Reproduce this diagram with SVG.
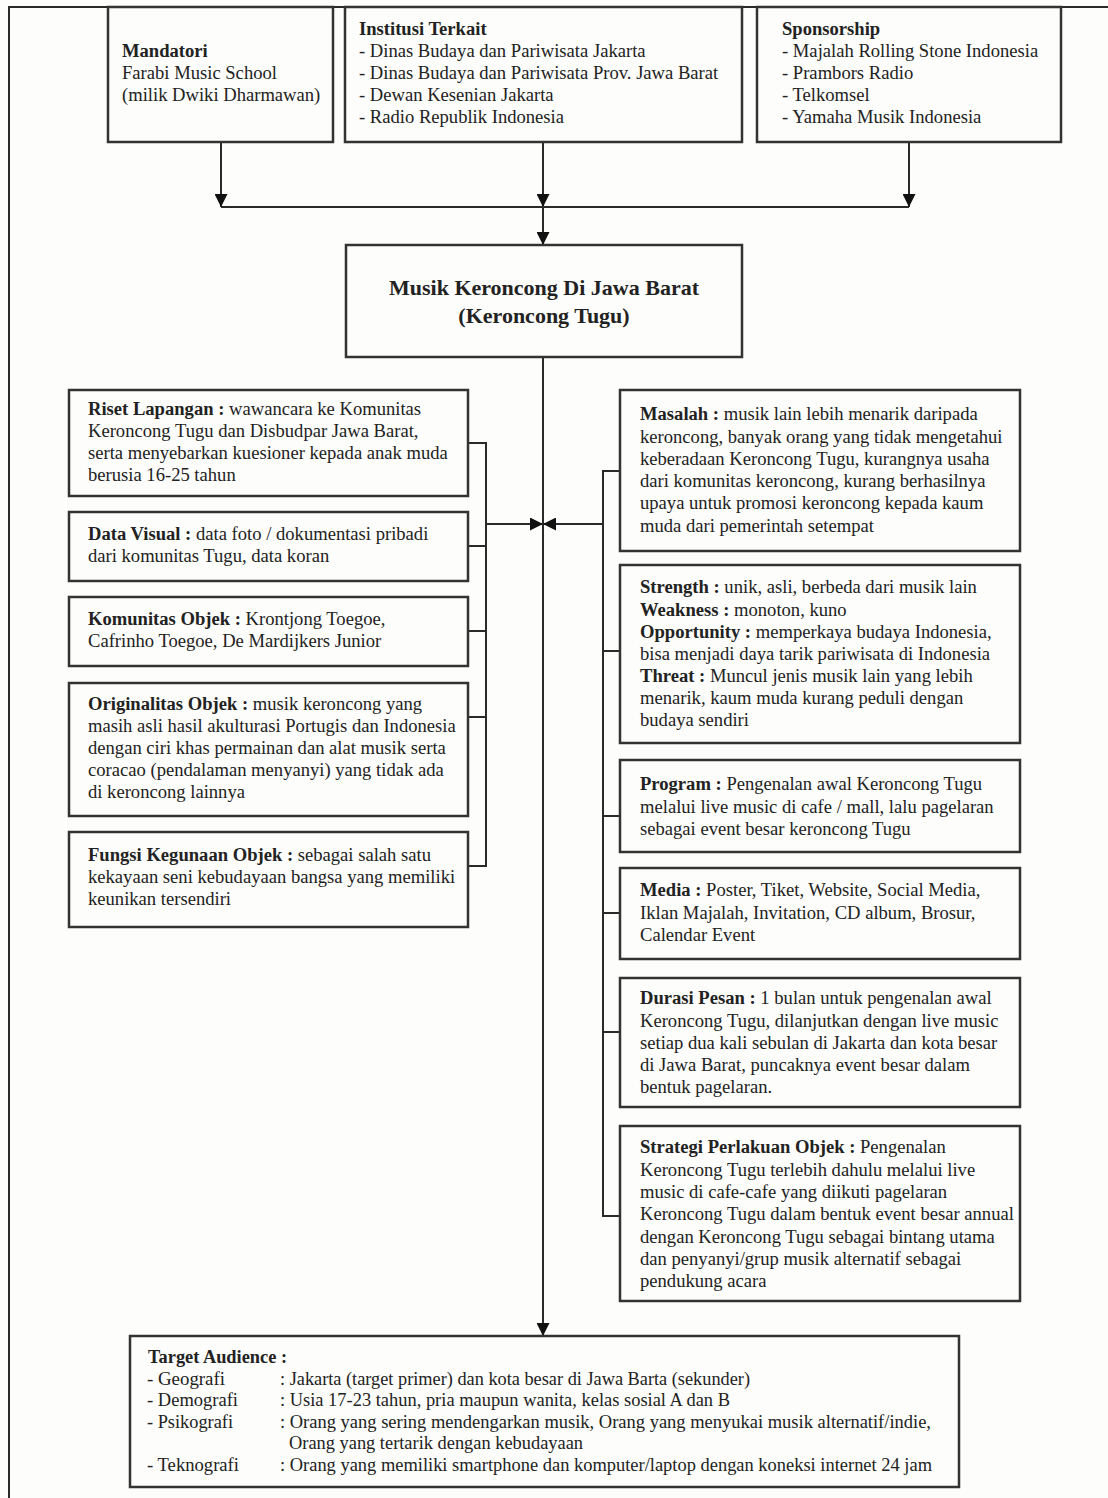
<svg xmlns="http://www.w3.org/2000/svg" width="1108" height="1498" viewBox="0 0 1108 1498">
<defs>
<style>
.bg{fill:#fdfdfb}
.box{fill:#fdfdfb;stroke:#333;stroke-width:2.5}
.ln{fill:none;stroke:#2a2a2a;stroke-width:2}
.t{font-family:"Liberation Serif","Times New Roman",serif;font-size:18.6px;fill:#222}
.s{font-size:18px}
.b{font-weight:bold}
.title{font-family:"Liberation Serif","Times New Roman",serif;font-size:22px;font-weight:bold;fill:#222;text-anchor:middle}
</style>
<marker id="ah" markerUnits="userSpaceOnUse" markerWidth="13" markerHeight="13" refX="13" refY="6.5" orient="auto" viewBox="0 0 13 13">
<path d="M0,0 L13,6.5 L0,13 z" fill="#111"/>
</marker>
</defs>
<rect class="bg" x="0" y="0" width="1108" height="1498"/>
<g id="page-border" class="ln">
<line x1="8" y1="7" x2="1108" y2="7"/>
<line x1="9" y1="7" x2="9" y2="1498"/>
</g>

<g id="connectors" class="ln">
<line x1="221" y1="142" x2="221" y2="207" marker-end="url(#ah)"/>
<line x1="543" y1="142" x2="543" y2="207" marker-end="url(#ah)"/>
<line x1="909" y1="142" x2="909" y2="207" marker-end="url(#ah)"/>
<line x1="221" y1="207" x2="909" y2="207"/>
<line x1="543" y1="207" x2="543" y2="245" marker-end="url(#ah)"/>
<line x1="543" y1="357" x2="543" y2="1336" marker-end="url(#ah)"/>
<polyline points="468,443 486,443 486,866 468,866"/>
<line x1="468" y1="546" x2="486" y2="546"/>
<line x1="468" y1="631" x2="486" y2="631"/>
<line x1="468" y1="717" x2="486" y2="717"/>
<line x1="486" y1="524" x2="543" y2="524" marker-end="url(#ah)"/>
<polyline points="620,471 603,471 603,1216 620,1216"/>
<line x1="603" y1="651" x2="620" y2="651"/>
<line x1="603" y1="816" x2="620" y2="816"/>
<line x1="603" y1="913" x2="620" y2="913"/>
<line x1="603" y1="1032" x2="620" y2="1032"/>
<line x1="603" y1="524" x2="543" y2="524" marker-end="url(#ah)"/>
</g>

<g id="mandatori">
<rect class="box" x="108" y="7" width="225" height="135"/>
<text class="t" x="122" y="57"><tspan class="b">Mandatori</tspan></text>
<text class="t" x="122" y="79">Farabi Music School</text>
<text class="t" x="122" y="101">(milik Dwiki Dharmawan)</text>
</g>
<g id="institusi">
<rect class="box" x="345" y="7" width="397" height="135"/>
<text class="t" x="359" y="35"><tspan class="b">Institusi Terkait</tspan></text>
<text class="t" x="359" y="57">- Dinas Budaya dan Pariwisata Jakarta</text>
<text class="t" x="359" y="79">- Dinas Budaya dan Pariwisata Prov. Jawa Barat</text>
<text class="t" x="359" y="101">- Dewan Kesenian Jakarta</text>
<text class="t" x="359" y="123">- Radio Republik Indonesia</text>
</g>
<g id="sponsorship">
<rect class="box" x="757" y="7" width="304" height="135"/>
<text class="t" x="782" y="35"><tspan class="b">Sponsorship</tspan></text>
<text class="t" x="782" y="57">- Majalah Rolling Stone Indonesia</text>
<text class="t" x="782" y="79">- Prambors Radio</text>
<text class="t" x="782" y="101">- Telkomsel</text>
<text class="t" x="782" y="123">- Yamaha Musik Indonesia</text>
</g>
<g id="central">
<rect class="box" x="346" y="245" width="396" height="112"/>
<text class="title" x="544" y="295">Musik Keroncong Di Jawa Barat</text>
<text class="title" x="544" y="323">(Keroncong Tugu)</text>
</g>

<g id="riset">
<rect class="box" x="69" y="390" width="399" height="106"/>
<text class="t" x="88" y="415"><tspan class="b">Riset Lapangan :</tspan> wawancara ke Komunitas</text>
<text class="t" x="88" y="437">Keroncong Tugu dan Disbudpar Jawa Barat,</text>
<text class="t" x="88" y="459">serta  menyebarkan kuesioner kepada anak muda</text>
<text class="t" x="88" y="481">berusia 16-25 tahun</text>
</g>
<g id="data-visual">
<rect class="box" x="69" y="512" width="399" height="69"/>
<text class="t" x="88" y="540"><tspan class="b">Data Visual :</tspan> data foto / dokumentasi pribadi</text>
<text class="t" x="88" y="562">dari komunitas Tugu, data koran</text>
</g>
<g id="komunitas">
<rect class="box" x="69" y="597" width="399" height="69"/>
<text class="t" x="88" y="625"><tspan class="b">Komunitas Objek :</tspan> Krontjong Toegoe,</text>
<text class="t" x="88" y="647">Cafrinho Toegoe, De Mardijkers Junior</text>
</g>
<g id="originalitas">
<rect class="box" x="69" y="683" width="399" height="133"/>
<text class="t" x="88" y="710"><tspan class="b">Originalitas Objek :</tspan> musik keroncong yang</text>
<text class="t" x="88" y="732">masih asli hasil akulturasi Portugis dan Indonesia</text>
<text class="t" x="88" y="754">dengan ciri khas permainan dan alat musik serta</text>
<text class="t" x="88" y="776">coracao (pendalaman menyanyi) yang tidak ada</text>
<text class="t" x="88" y="798">di keroncong lainnya</text>
</g>
<g id="fungsi">
<rect class="box" x="69" y="832" width="399" height="95"/>
<text class="t" x="88" y="861"><tspan class="b">Fungsi Kegunaan Objek :</tspan> sebagai salah satu</text>
<text class="t" x="88" y="883">kekayaan seni kebudayaan bangsa yang memiliki</text>
<text class="t" x="88" y="905">keunikan tersendiri</text>
</g>

<g id="masalah">
<rect class="box" x="620" y="390" width="400" height="161"/>
<text class="t" x="640" y="420"><tspan class="b">Masalah :</tspan> musik lain lebih menarik daripada</text>
<text class="t" x="640" y="443">keroncong, banyak orang yang tidak mengetahui</text>
<text class="t" x="640" y="465">keberadaan Keroncong Tugu, kurangnya usaha</text>
<text class="t" x="640" y="487">dari komunitas keroncong, kurang berhasilnya</text>
<text class="t" x="640" y="509">upaya untuk promosi keroncong kepada kaum</text>
<text class="t" x="640" y="532">muda dari pemerintah setempat</text>
</g>
<g id="swot">
<rect class="box" x="620" y="565" width="400" height="178"/>
<text class="t" x="640" y="593"><tspan class="b">Strength :</tspan> unik, asli, berbeda dari musik lain</text>
<text class="t" x="640" y="616"><tspan class="b">Weakness :</tspan> monoton, kuno</text>
<text class="t" x="640" y="638"><tspan class="b">Opportunity :</tspan> memperkaya budaya Indonesia,</text>
<text class="t" x="640" y="660">bisa menjadi daya tarik pariwisata di Indonesia</text>
<text class="t" x="640" y="682"><tspan class="b">Threat :</tspan> Muncul jenis musik lain yang lebih</text>
<text class="t" x="640" y="704">menarik, kaum muda kurang peduli dengan</text>
<text class="t" x="640" y="726">budaya sendiri</text>
</g>
<g id="program">
<rect class="box" x="620" y="760" width="400" height="92"/>
<text class="t" x="640" y="790"><tspan class="b">Program :</tspan> Pengenalan awal Keroncong Tugu</text>
<text class="t" x="640" y="813">melalui live music di cafe / mall, lalu pagelaran</text>
<text class="t" x="640" y="835">sebagai event besar keroncong Tugu</text>
</g>
<g id="media">
<rect class="box" x="620" y="868" width="400" height="91"/>
<text class="t" x="640" y="896"><tspan class="b">Media :</tspan> Poster, Tiket, Website, Social Media,</text>
<text class="t" x="640" y="919">Iklan Majalah, Invitation, CD album, Brosur,</text>
<text class="t" x="640" y="941">Calendar Event</text>
</g>
<g id="durasi">
<rect class="box" x="620" y="978" width="400" height="129"/>
<text class="t" x="640" y="1004"><tspan class="b">Durasi Pesan :</tspan> 1 bulan untuk pengenalan awal</text>
<text class="t" x="640" y="1027">Keroncong Tugu, dilanjutkan dengan live music</text>
<text class="t" x="640" y="1049">setiap dua kali sebulan di Jakarta dan kota besar</text>
<text class="t" x="640" y="1071">di Jawa Barat, puncaknya event besar dalam</text>
<text class="t" x="640" y="1093">bentuk pagelaran.</text>
</g>
<g id="strategi">
<rect class="box" x="620" y="1126" width="400" height="175"/>
<text class="t" x="640" y="1153"><tspan class="b">Strategi Perlakuan Objek :</tspan> Pengenalan</text>
<text class="t" x="640" y="1176">Keroncong Tugu terlebih dahulu melalui live</text>
<text class="t" x="640" y="1198">music di cafe-cafe yang diikuti pagelaran</text>
<text class="t" x="640" y="1220">Keroncong Tugu dalam bentuk event besar annual</text>
<text class="t" x="640" y="1243">dengan Keroncong Tugu sebagai bintang utama</text>
<text class="t" x="640" y="1265">dan penyanyi/grup musik alternatif sebagai</text>
<text class="t" x="640" y="1287">pendukung acara</text>
</g>

<g id="target-audience">
<rect class="box" x="130" y="1336" width="829" height="151"/>
<text class="t s b" x="148" y="1363" textLength="139" lengthAdjust="spacingAndGlyphs">Target Audience :</text>
<text class="t s" x="147" y="1385" textLength="78" lengthAdjust="spacingAndGlyphs">- Geografi</text>
<text class="t s" x="280" y="1385" textLength="470" lengthAdjust="spacingAndGlyphs">: Jakarta (target primer) dan kota besar di Jawa Barta (sekunder)</text>
<text class="t s" x="147" y="1406" textLength="91" lengthAdjust="spacingAndGlyphs">- Demografi</text>
<text class="t s" x="280" y="1406" textLength="450" lengthAdjust="spacingAndGlyphs">: Usia 17-23 tahun, pria maupun wanita, kelas sosial A dan B</text>
<text class="t s" x="147" y="1428" textLength="86" lengthAdjust="spacingAndGlyphs">- Psikografi</text>
<text class="t s" x="280" y="1428" textLength="651" lengthAdjust="spacingAndGlyphs">: Orang yang sering mendengarkan musik, Orang yang menyukai musik alternatif/indie,</text>
<text class="t s" x="289" y="1449" textLength="294" lengthAdjust="spacingAndGlyphs">Orang yang tertarik dengan kebudayaan</text>
<text class="t s" x="147" y="1471" textLength="92" lengthAdjust="spacingAndGlyphs">- Teknografi</text>
<text class="t s" x="280" y="1471" textLength="652" lengthAdjust="spacingAndGlyphs">: Orang yang memiliki smartphone dan komputer/laptop dengan koneksi internet 24 jam</text>
</g>
</svg>
